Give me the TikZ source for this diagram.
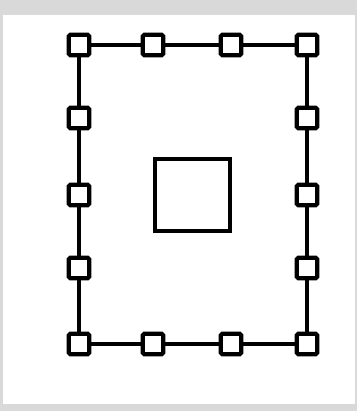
\documentclass[tikz,border=0pt]{standalone}
\definecolor{framegray}{RGB}{217,217,217}
\begin{document}
\begin{tikzpicture}[x=1pt,y=1pt,
    pad/.style={draw,line width=4.2pt,minimum size=20.5pt,inner sep=0pt,rounded corners=1.5pt,fill=white},
    wire/.style={line width=3.4pt}]
      \fill[framegray] (0,0) rectangle (357,411);
      \fill[white] (3,7) rectangle (355,396);
      \draw
        (79,366) node[pad] (0){}
        (153,366) node[pad] (1){}
        (231,366) node[pad] (2){}
        (307,366) node[pad] (3){}
        (307,293) node[pad] (4){}
        (307,216) node[pad] (5){}
        (307,143) node[pad] (6){}
        (307,67) node[pad] (7){}
        (231,67) node[pad] (8){}
        (153,67) node[pad] (9){}
        (79,67) node[pad] (10){}
        (79,143) node[pad] (11){}
        (79,216) node[pad] (12){}
        (79,293) node[pad] (13){};
      \node[draw,line width=4.2pt,minimum width=75pt,minimum height=72pt] (c) at (192.5,216) {};
      \begin{scope}[wire]
        \draw (0) to (1);
        \draw (1) to (2);
        \draw (2) to (3);
        \draw (3) to (4);
        \draw (4) to (5);
        \draw (5) to (6);
        \draw (6) to (7);
        \draw (7) to (8);
        \draw (8) to (9);
        \draw (9) to (10);
        \draw (10) to (11);
        \draw (11) to (12);
        \draw (12) to (13);
        \draw (13) to (0);
      \end{scope}
    \end{tikzpicture}
\end{document}
